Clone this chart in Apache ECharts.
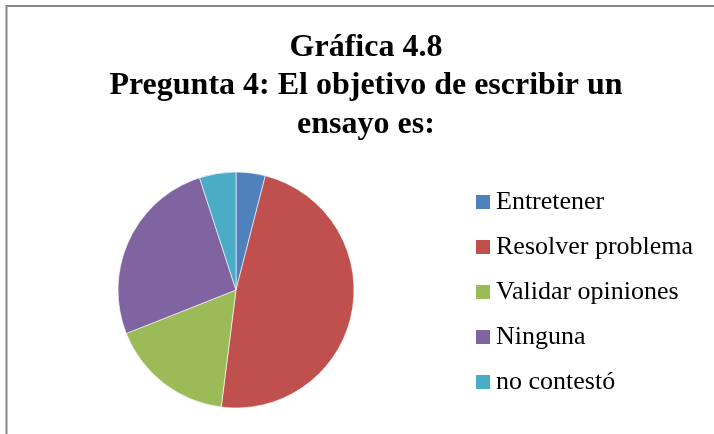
<!DOCTYPE html>
<html>
<head>
<meta charset="utf-8">
<script src="https://cdn.jsdelivr.net/npm/echarts@6/dist/echarts.min.js"></script>
<style>html,body{margin:0;padding:0;background:#fff;}#c{width:714px;height:434px;}</style>
</head>
<body>
<div id="c"></div>
<script>
var titleLines = ['Gráfica 4.8', 'Pregunta 4: El objetivo de escribir un', 'ensayo es:'];
var categories = ['Entretener', 'Resolver problema', 'Validar opiniones', 'Ninguna', 'no contestó'];
var values = [4, 48, 17, 26, 5];
var colors = ['#4F81BD', '#C0504D', '#9BBB59', '#8064A2', '#4BACC6'];

var chart = echarts.init(document.getElementById('c'), null, {renderer: 'canvas'});
chart.setOption({
  backgroundColor: '#ffffff',
  animation: false,
  color: colors,
  title: {
    text: titleLines.join('\n'),
    left: 361,
    textAlign: 'center',
    top: 23,
    textStyle: {
      fontFamily: 'Liberation Serif',
      fontWeight: 'bold',
      fontSize: 32,
      lineHeight: 38.5,
      color: '#000'
    }
  },
  legend: {
    orient: 'vertical',
    left: 476,
    top: 189,
    padding: 0,
    itemWidth: 14,
    itemHeight: 14,
    itemGap: 19,
    itemStyle: {borderWidth: 0},
    data: categories.map(function (c) { return {name: c, icon: 'rect'}; }),
    textStyle: {
      fontFamily: 'Liberation Serif',
      fontSize: 26,
      lineHeight: 26,
      color: '#000',
      padding: [0, 0, 0, 1]
    }
  },
  graphic: [
    {type: 'line', shape: {x1: 6.5, y1: 6, x2: 714, y2: 6}, style: {stroke: '#888', lineWidth: 2}},
    {type: 'line', shape: {x1: 6.5, y1: 5, x2: 6.5, y2: 434}, style: {stroke: '#888', lineWidth: 2}}
  ],
  series: [{
    type: 'pie',
    center: [236, 290],
    radius: [0, 118],
    startAngle: 90,
    clockwise: true,
    label: {show: false},
    labelLine: {show: false},
    emphasis: {disabled: true},
    itemStyle: {borderColor: '#fff', borderWidth: 0.6},
    data: categories.map(function (c, i) { return {name: c, value: values[i]}; })
  }]
});
</script>
</body>
</html>
